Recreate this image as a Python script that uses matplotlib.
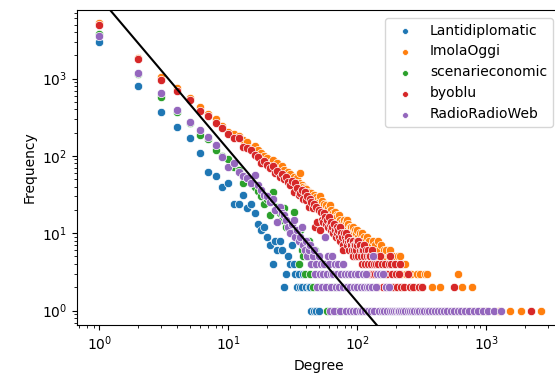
import matplotlib.pyplot as plt
import numpy as np

# degree -> frequency
lanti_deg = list(range(1, 39)) + [40, 42, 43, 44, 46, 48, 50]
lanti_cnt = [2990, 807, 372, 234, 172, 108, 61, 55, 39, 45,
             24, 24, 31, 21, 24, 18, 13, 11, 12, 9,
             7, 4, 8, 6, 8, 6, 2, 3, 5, 4,
             7, 4, 3, 2, 3, 2, 2, 3,
             2, 2, 2, 1, 1, 1, 1]

imola_deg = list(range(1, 100)) + [
    100, 102, 104, 106, 108, 110, 112, 115, 118, 120, 123, 126, 129, 132, 135,
    138, 141, 145, 148, 152, 156, 160, 164, 167, 172, 176, 180, 185, 190, 196,
    202, 208, 214, 220, 226, 233, 240, 250, 262, 275, 290, 305, 320, 335, 350,
    380, 410, 437, 470, 500, 560, 600, 650, 690, 780, 900, 1250, 1535, 1845, 2660]
imola_cnt = [5250, 1850, 1036, 747, 560, 432, 350, 297, 240,
             205, 190, 180, 160, 150, 125, 135, 118, 110, 100,
             95, 82, 88, 72, 80, 66, 74, 65, 58, 62,
             58, 50, 54, 46, 52, 44, 60, 42, 40, 38,
             37, 30, 34, 26, 33, 28, 31, 24, 29, 27,
             25, 30, 22, 26, 21, 24, 20, 23, 18, 21,
             19, 23, 17, 20, 16, 18, 15, 19, 14, 17,
             16, 14, 17, 13, 15, 12, 14, 11, 13, 15,
             12, 14, 11, 15, 10, 13, 9, 12, 11, 10,
             12, 9, 11, 12, 10, 8, 11, 9, 10, 8,
             11, 9, 10, 8, 10, 7, 9, 8, 9, 7, 8, 6, 7, 8, 6,
             7, 5, 8, 6, 7, 5, 6, 5, 6, 4, 5, 6, 4, 5, 4,
             3, 5, 5, 3, 4, 4, 3, 3, 3, 2, 3, 3, 2, 3, 3,
             2, 1, 2, 1, 1, 1, 3, 2, 1, 2, 1, 1, 1, 1, 1]

scen_deg = list(range(1, 35)) + [35, 36, 37, 38, 39, 40, 41, 42, 43, 44, 45, 46,
                                 47, 48, 50, 52, 54, 56, 58, 60, 63, 66, 70, 75]
scen_cnt = [3800, 1150, 571, 370, 265, 186, 166, 119, 100, 90,
            72, 66, 44, 52, 45, 40, 35, 30, 24, 28,
            17, 34, 20, 22, 18, 15, 21, 12, 14, 11,
            13, 19, 9, 10,
            4, 11, 6, 5, 3, 7, 5, 8, 3, 6, 2, 4,
            6, 3, 2, 3, 2, 4, 1, 2, 1, 2, 1, 1]

byoblu_deg = list(range(1, 100)) + [
    100, 101, 102, 104, 105, 106, 108, 109, 110, 112, 113, 115, 116, 118, 120,
    121, 123, 125, 126, 128, 130, 132, 134, 136, 138, 140, 142, 144, 146, 149,
    152, 155, 158, 161, 164, 168, 171, 175, 179, 183, 185, 190, 195, 199, 204,
    210, 216, 220, 232, 245, 258, 272, 290, 300, 317, 350, 420, 480, 560, 590,
    640, 760, 930, 1000, 2240]
byoblu_cnt = [4860, 1790, 957, 696, 528, 380, 330, 264, 227,
              190, 172, 169, 131, 125, 118, 103, 98, 80, 86,
              76, 70, 74, 60, 63, 54, 58, 50, 54, 46,
              42, 47, 34, 44, 38, 31, 33, 36, 28, 34,
              27, 30, 22, 28, 25, 21, 24, 12, 22, 14,
              20, 11, 19, 15, 14, 18, 16, 13, 15, 12,
              16, 13, 14, 11, 12, 10, 13, 11, 9, 12,
              10, 11, 9, 12, 8, 10, 9, 7, 6, 10,
              9, 8, 10, 7, 8, 9, 6, 8, 8, 7,
              7, 6, 8, 5, 7, 6, 7, 5, 6, 8,
              7, 8, 5, 6, 7, 5, 6, 4, 6, 5, 7, 4, 6, 5, 6,
              4, 5, 3, 5, 4, 6, 3, 4, 5, 3, 4, 2, 4, 3, 5,
              3, 4, 2, 3, 4, 2, 3, 4, 5, 4, 3, 2, 4, 3, 2,
              3, 4, 2, 2, 3, 2, 2, 1, 2, 2, 1, 1, 1, 2, 1,
              1, 1, 1, 1, 1]

rrw_deg = list(range(1, 61)) + [
    61, 62, 63, 64, 65, 66, 67, 68, 70, 71, 72, 73, 75, 77, 78, 80, 81, 83, 85,
    87, 88, 90, 92, 94, 96, 98, 100, 102, 104, 106, 108, 110, 112, 114, 117,
    119, 121, 124, 127, 130, 132, 135, 139, 143, 147, 150, 154, 158, 162, 166,
    170, 175, 180, 186, 192, 198, 205, 212, 220, 228, 236, 245, 255, 265, 276,
    288, 300, 315, 330, 345, 362, 380, 400, 420, 445, 470, 500, 530, 565, 600,
    640, 690, 740, 800, 870, 950, 1040, 1150, 1310]
rrw_cnt = [3570, 1170, 656, 392, 277, 216, 174, 138, 98, 72,
           80, 62, 55, 51, 45, 57, 42, 36, 31, 30,
           25, 28, 20, 14, 22, 18, 17, 15, 12, 10,
           13, 15, 9, 11, 8, 9, 12, 7, 6, 8,
           5, 6, 7, 4, 5, 6, 3, 4, 2, 5,
           3, 4, 2, 3, 4, 9, 2, 3, 5, 4,
           1, 3, 2, 5, 3, 1, 4, 2, 3, 4, 2, 1, 3, 4, 2, 3, 1, 2, 3,
           1, 2, 3, 1, 2, 3, 1, 2, 3, 1, 2, 1, 3, 2, 1, 3,
           2, 1, 2, 1, 2, 5, 1, 2, 3, 1, 3, 1, 3, 1, 2,
           1, 2, 1, 1, 1, 1, 1, 1, 1, 1, 1, 1, 1, 1, 1,
           1, 1, 1, 1, 1, 1, 1, 1, 1, 1, 1, 1, 1, 1, 1,
           1, 1, 1, 1, 1, 1, 1, 1, 1]

names = ['Lantidiplomatic', 'ImolaOggi', 'scenarieconomic', 'byoblu', 'RadioRadioWeb']
colors = ['#1f77b4', '#ff7f0e', '#2ca02c', '#d62728', '#9467bd']

# power-law fit shown as black line
fit_coef = 11200
fit_exp = -1.97

fig = plt.figure(figsize=(5.55, 3.74), dpi=100)
ax = fig.add_axes([77 / 555, 49 / 374, 483 / 555, 315 / 374])

data = [(lanti_deg, lanti_cnt), (imola_deg, imola_cnt), (scen_deg, scen_cnt),
        (byoblu_deg, byoblu_cnt), (rrw_deg, rrw_cnt)]
for (d, c), name, col in zip(data, names, colors):
    ax.scatter(d, c, s=36, color=col, edgecolor='white', linewidth=0.5, label=name)

ax.set_xscale('log')
ax.set_yscale('log')
xs = np.array([0.5, 5000])
ax.plot(xs, fit_coef * xs ** fit_exp, color='black', lw=1.5)

ax.set_xlim(0.67, 3730)
ax.set_ylim(0.65, 7700)
ax.set_xlabel('Degree')
ax.set_ylabel('Frequency')

ax.legend(loc='upper right', bbox_to_anchor=(552.5 / 555, 1 - 18 / 374),
          bbox_transform=fig.transFigure, borderaxespad=0, markerscale=0.7)

fig.savefig('out.png', dpi=100)
